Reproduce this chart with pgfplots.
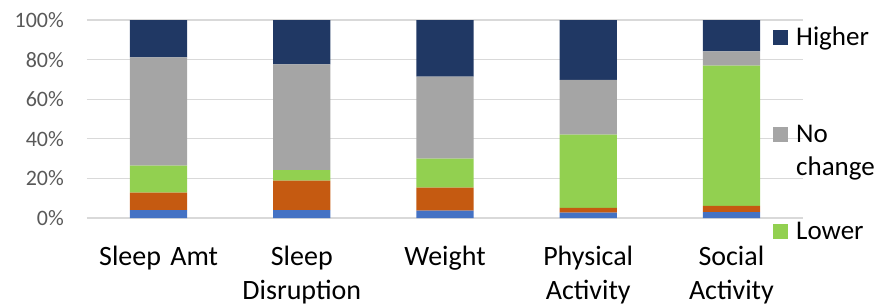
\documentclass[border=0pt]{standalone}
\usepackage{pgfplots}
\pgfplotsset{compat=1.18}
\usepackage{fontspec}
\setmainfont{Carlito}
\definecolor{cblue}{HTML}{4472C4}
\definecolor{corange}{HTML}{C55A11}
\definecolor{cgreen}{HTML}{92D050}
\definecolor{cgray}{HTML}{A5A5A5}
\definecolor{cnavy}{HTML}{203864}
\definecolor{gridc}{HTML}{D9D9D9}
\definecolor{tickc}{HTML}{595959}
\pgfplotsset{sqlegend/.style={legend image code/.code={\fill[##1] (0pt,-7.5pt) rectangle (15pt,7.5pt);}}}
\begin{document}
\begin{tikzpicture}
\begin{axis}[
  at={(0pt,0pt)}, anchor=south west,
  scale only axis, width=716pt, height=198pt,
  ybar stacked, bar width=0.4,
  xmin=-0.5, xmax=4.5, ymin=0, ymax=100,
  xtick={0,1,2,3,4},
  xticklabels={Sleep Amt, Sleep\\Disruption, Weight, Physical\\Activity, Social\\Activity},
  ytick={0,20,40,60,80,100},
  yticklabel={\pgfmathprintnumber{\tick}\%},
  /pgf/number format/assume math mode=true,
  axis line style={draw=none},
  major tick length=0pt,
  tick style={draw=none},
  ymajorgrids, grid style={draw=gridc, line width=1.3pt},
  yticklabel style={font=\fontsize{22}{26}\selectfont, text=tickc, inner sep=0pt, anchor=east, xshift=-23pt},
  xticklabel style={font=\fontsize{28}{34}\selectfont, text=black, inner sep=0pt, anchor=north, align=center, text width=160pt, yshift=-28pt},
  legend cell align=left,
  reverse legend,
  legend style={draw=none, fill=none, inner sep=0pt, at={(0.9581,0.9545)}, anchor=north west,
    row sep=81pt, column sep=8pt,
    font=\fontsize{27}{33}\selectfont,
    nodes={inner sep=0pt, text height=16pt, text depth=0pt}},
]
\addplot+[fill=cblue, draw=none, forget plot] coordinates {(0,4.0) (1,4.0) (2,3.7) (3,2.7) (4,3.0)};
\addplot+[fill=corange, draw=none, forget plot] coordinates {(0,8.8) (1,14.9) (2,11.6) (3,2.4) (4,3.1)};
\addplot+[fill=cgreen, draw=none, sqlegend] coordinates {(0,13.6) (1,5.3) (2,14.7) (3,37.0) (4,70.8)};
\addlegendentry{Lower}
\addplot+[fill=cgray, draw=none, sqlegend] coordinates {(0,54.7) (1,53.4) (2,41.4) (3,27.6) (4,7.3)};
\addlegendentry{\vtop{\hbox{No}\hbox{change}}}
\addplot+[fill=cnavy, draw=none, sqlegend] coordinates {(0,18.9) (1,22.4) (2,28.6) (3,30.3) (4,15.8)};
\addlegendentry{Higher}
\end{axis}
\pgfresetboundingbox
\path[use as bounding box] (-87pt,-88pt) rectangle (796pt,218pt);
\end{tikzpicture}
\end{document}
